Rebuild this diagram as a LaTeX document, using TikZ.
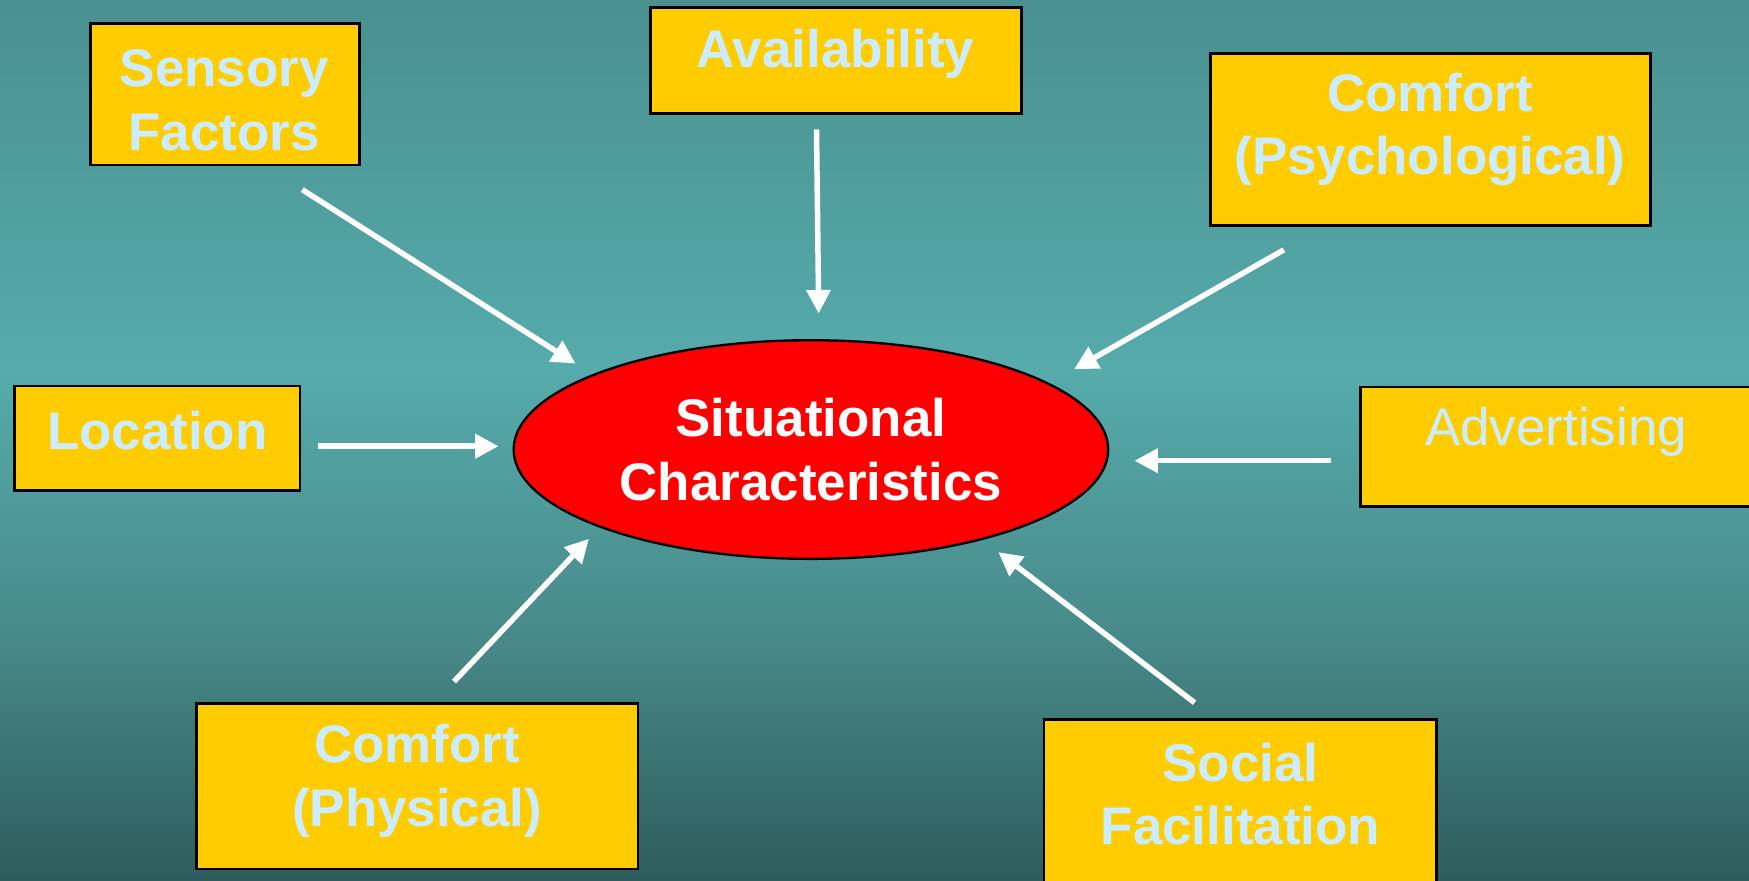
\documentclass[tikz,border=0pt]{standalone}
\usepackage{fontspec}
\setmainfont{Liberation Sans}
\usetikzlibrary{arrows.meta, shapes.geometric, fit}

\definecolor{bgtop}{RGB}{74,144,144}
\definecolor{bgmid}{RGB}{86,171,171}
\definecolor{bglow}{RGB}{72,138,138}
\definecolor{bgbot}{RGB}{46,92,92}
\definecolor{boxyellow}{RGB}{255,204,0}
\definecolor{textblue}{RGB}{204,236,255}
% only the middle 25bp--75bp band is shown on a path
\pgfdeclareverticalshading{bgshade}{100bp}{color(0bp)=(bgbot); color(25bp)=(bgbot); color(39bp)=(bglow); color(54bp)=(bgmid); color(75bp)=(bgtop); color(100bp)=(bgtop)}

\begin{document}
\begin{tikzpicture}[x=0.1mm, y=-0.1mm,
  box/.style = {draw=black, line width=0.7pt, fill=boxyellow, inner sep=0pt},
  boxtext/.style = {text=textblue, align=center, font=\bfseries\fontsize{13.5pt}{16.2pt}\selectfont},
  arrow/.style = {draw=white, line width=1.4pt, -{Triangle[length=6pt, width=6pt]}}]
\useasboundingbox (0,0) rectangle (1568,789);
\shade[shading=bgshade] (0,0) rectangle (1568,789);

% boxes
\node[box, fit={(81,21) (322,148)}] (sensbox) {};
\node[box, fit={(583,7) (916,102)}] (availbox) {};
\node[box, fit={(1085,48) (1480,202)}] (psychbox) {};
\node[box, fit={(13,346) (269,440)}] (locbox) {};
\node[box, fit={(1220,347) (1575,454)}] (advbox) {};
\node[box, fit={(176,631) (572,779)}] (physbox) {};
\node[box, fit={(936,645) (1288,800)}] (socbox) {};

\node[boxtext] (sens) at (201,90) {Sensory\\Factors};
\node[boxtext] (avail) at (749,48) {Availability};
\node[boxtext] (psych) at (1282,116) {Comfort\\(Psychological)};
\node[boxtext] (loc) at (141,386) {Location};
\node[boxtext, font=\fontsize{13.5pt}{16.2pt}\selectfont] (adv) at (1395,387) {Advertising};
\node[boxtext] (phys) at (374,700) {Comfort\\(Physical)};
\node[boxtext] (soc) at (1112,712) {Social\\Facilitation};

% centre
\node[ellipse, draw=black, line width=0.6pt, fill=red, text=white, inner sep=0pt,
  minimum width=53.3mm, minimum height=19.6mm, align=center,
  font=\bfseries\fontsize{13.5pt}{16.2pt}\selectfont] (sit) at (727,403) {Situational\\Characteristics};

% arrow ends
\coordinate (sensA) at (271,170);  \coordinate (sensB) at (516,326);
\coordinate (availA) at (732,116); \coordinate (availB) at (734,281);
\coordinate (psychA) at (1151,224); \coordinate (psychB) at (963,331);
\coordinate (locA) at (285,400);   \coordinate (locB) at (447,400);
\coordinate (advA) at (1193,413);  \coordinate (advB) at (1017,413);
\coordinate (physA) at (407,611);  \coordinate (physB) at (528,483);
\coordinate (socA) at (1071,630);  \coordinate (socB) at (895,495);

\draw[arrow] (sensA) -- (sensB);
\draw[arrow] (availA) -- (availB);
\draw[arrow] (psychA) -- (psychB);
\draw[arrow] (locA) -- (locB);
\draw[arrow] (advA) -- (advB);
\draw[arrow] (physA) -- (physB);
\draw[arrow] (socA) -- (socB);
\end{tikzpicture}
\end{document}
